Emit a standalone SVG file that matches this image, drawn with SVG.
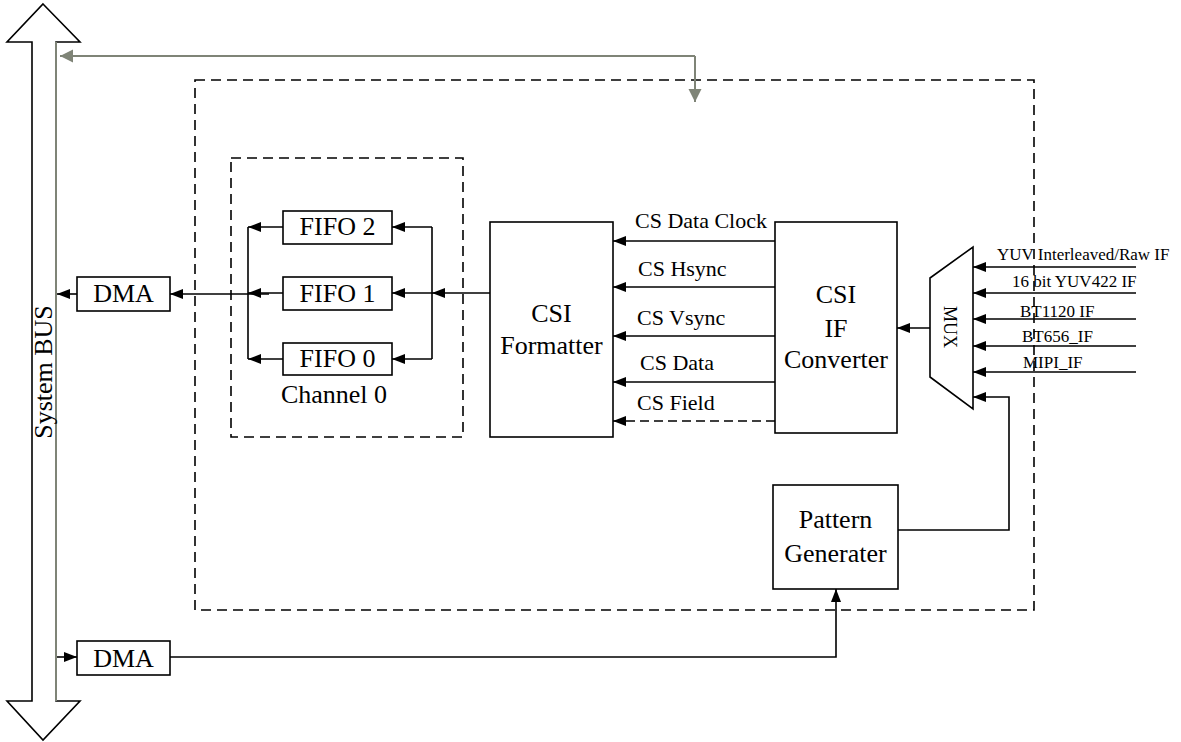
<svg xmlns="http://www.w3.org/2000/svg" width="1181" height="742" viewBox="0 0 1181 742">
<style>
.box{fill:#fff;stroke:#000;stroke-width:1.6}
.dash{fill:none;stroke:#000;stroke-width:1.6;stroke-dasharray:10 6}
.ln{fill:none;stroke:#000;stroke-width:1.6}
.gl{fill:none;stroke:#7f8477;stroke-width:2}
.t{font-family:"Liberation Serif","Times New Roman",serif;fill:#000}
.big{font-size:26px}
.mid{font-size:22px}
.sm{font-size:17px}
</style>
<defs>
<marker id="ah" markerUnits="userSpaceOnUse" markerWidth="14" markerHeight="11" refX="13" refY="5" orient="auto"><path d="M0,0 L13,5 L0,10 z" fill="#000"/></marker>
<marker id="ahg" markerUnits="userSpaceOnUse" markerWidth="14" markerHeight="14" refX="13" refY="6.5" orient="auto"><path d="M0,0 L13,6.5 L0,13 z" fill="#7f8477"/></marker>
</defs>
<g id="system-bus">
<polygon class="box" points="43,4 80,42 56,42 56,701 80,701 43,740 7,701 32,701 32,42 7,42"/>
<line x1="56" y1="42" x2="56" y2="701" stroke="#7f8477" stroke-width="2"/>
<text class="t big" transform="translate(52,372) rotate(-90)" text-anchor="middle">System BUS</text>
</g>
<g id="csi-block"><rect class="dash" x="195" y="80" width="839" height="530"/></g>
<g id="channel0">
<rect class="dash" x="231" y="158" width="232" height="279"/>
<text class="t big" x="334" y="403" text-anchor="middle">Channel 0</text>
</g>
<g id="fifo2"><rect class="box" x="283" y="211" width="109" height="33"/><text class="t big" x="337.5" y="235" text-anchor="middle">FIFO 2</text></g>
<g id="fifo1"><rect class="box" x="283" y="277" width="109" height="33"/><text class="t big" x="337.5" y="302" text-anchor="middle">FIFO 1</text></g>
<g id="fifo0"><rect class="box" x="283" y="343" width="109" height="32"/><text class="t big" x="337.5" y="367" text-anchor="middle">FIFO 0</text></g>
<g id="dma-top"><rect class="box" x="77" y="277" width="93" height="34"/><text class="t big" x="123.5" y="302" text-anchor="middle">DMA</text></g>
<g id="dma-bottom"><rect class="box" x="77" y="641" width="93" height="34"/><text class="t big" x="123.5" y="667" text-anchor="middle">DMA</text></g>
<g id="csi-formatter"><rect class="box" x="490" y="222" width="123" height="215"/><text class="t big" x="551.5" y="322" text-anchor="middle">CSI</text><text class="t big" x="551.5" y="354" text-anchor="middle">Formatter</text></g>
<g id="csi-if-converter"><rect class="box" x="775" y="222" width="122" height="211"/><text class="t big" x="836" y="303" text-anchor="middle">CSI</text><text class="t big" x="836" y="337" text-anchor="middle">IF</text><text class="t big" x="836" y="368" text-anchor="middle">Converter</text></g>
<g id="mux"><polygon class="box" points="930,278 973,247 973,409 930,377"/><text class="t" font-size="18" transform="translate(944,327) rotate(90)" text-anchor="middle">MUX</text></g>
<g id="pattern-generator"><rect class="box" x="773" y="485" width="125" height="104"/><text class="t big" x="835.5" y="528" text-anchor="middle">Pattern</text><text class="t big" x="835.5" y="562" text-anchor="middle">Generater</text></g>
<g id="connectors">
<polyline class="gl" points="695,56 60,56" marker-end="url(#ahg)"/>
<polyline class="gl" points="695,56 695,102" marker-end="url(#ahg)"/>
<line class="ln" x1="77" y1="294" x2="57" y2="294" marker-end="url(#ah)"/>
<line class="ln" x1="269" y1="294" x2="170" y2="294" marker-end="url(#ah)"/>
<line class="ln" x1="248" y1="227" x2="248" y2="359"/>
<line class="ln" x1="283" y1="227" x2="248" y2="227" marker-end="url(#ah)"/>
<line class="ln" x1="283" y1="293" x2="248" y2="293" marker-end="url(#ah)"/>
<line class="ln" x1="283" y1="359" x2="248" y2="359" marker-end="url(#ah)"/>
<line class="ln" x1="432" y1="227" x2="432" y2="359"/>
<line class="ln" x1="432" y1="227" x2="392" y2="227" marker-end="url(#ah)"/>
<line class="ln" x1="432" y1="293" x2="392" y2="293" marker-end="url(#ah)"/>
<line class="ln" x1="432" y1="359" x2="392" y2="359" marker-end="url(#ah)"/>
<line class="ln" x1="490" y1="293" x2="432" y2="293" marker-end="url(#ah)"/>
<line class="ln" x1="775" y1="241" x2="613" y2="241" marker-end="url(#ah)"/>
<line class="ln" x1="775" y1="287" x2="613" y2="287" marker-end="url(#ah)"/>
<line class="ln" x1="775" y1="336" x2="613" y2="336" marker-end="url(#ah)"/>
<line class="ln" x1="775" y1="382" x2="613" y2="382" marker-end="url(#ah)"/>
<line class="ln" x1="775" y1="421" x2="613" y2="421" stroke-dasharray="9 5" marker-end="url(#ah)"/>
<text class="t mid" x="635" y="228">CS Data Clock</text>
<text class="t mid" x="638" y="276">CS Hsync</text>
<text class="t mid" x="637" y="325">CS Vsync</text>
<text class="t mid" x="640" y="370">CS Data</text>
<text class="t mid" x="637" y="410">CS Field</text>
<line class="ln" x1="930" y1="328" x2="897" y2="328" marker-end="url(#ah)"/>
<line class="ln" x1="1136" y1="267" x2="973" y2="267" marker-end="url(#ah)"/>
<line class="ln" x1="1136" y1="293" x2="973" y2="293" marker-end="url(#ah)"/>
<line class="ln" x1="1136" y1="319" x2="973" y2="319" marker-end="url(#ah)"/>
<line class="ln" x1="1136" y1="346" x2="973" y2="346" marker-end="url(#ah)"/>
<line class="ln" x1="1136" y1="372" x2="973" y2="372" marker-end="url(#ah)"/>
<text class="t sm" x="997" y="260">YUV Interleaved/Raw IF</text>
<text class="t sm" x="1012" y="287">16 bit YUV422 IF</text>
<text class="t sm" x="1020" y="317">BT1120 IF</text>
<text class="t sm" x="1022" y="342">BT656_IF</text>
<text class="t sm" x="1023" y="368">MIPI_IF</text>
<polyline class="ln" points="898,530 1009,530 1009,397 973,397" marker-end="url(#ah)"/>
<line class="ln" x1="57" y1="657" x2="77" y2="657" marker-end="url(#ah)"/>
<polyline class="ln" points="170,657 836,657 836,589" marker-end="url(#ah)"/>
</g>
</svg>
